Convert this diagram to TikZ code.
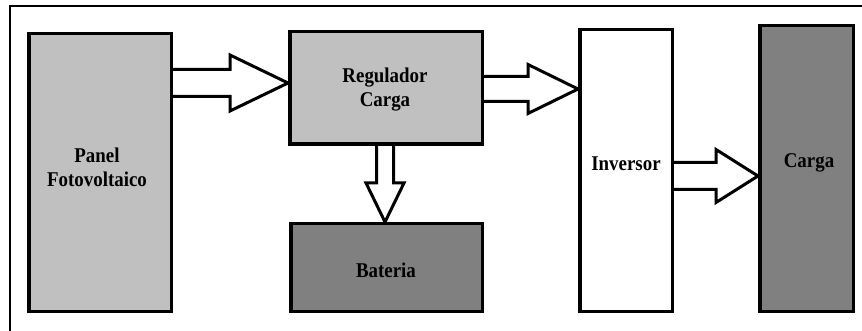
\documentclass[tikz,border=0pt]{standalone}
\usepackage{fontspec}
\setmainfont{Liberation Serif}[FakeStretch=0.9]
\usetikzlibrary{calc,backgrounds}
\definecolor{lgray}{HTML}{C0C0C0}
\definecolor{dgray}{HTML}{808080}
\tikzset{
  blk/.style={draw=black, line width=3.5pt, inner sep=0pt, anchor=center},
  lbl/.style={font=\fontsize{21}{24.5}\selectfont\bfseries, inner sep=0pt, align=center, anchor=base},
  barrow/.style={draw=black, fill=white, line width=3pt, line join=miter},
  frame/.style={draw=black, line width=2.2pt}
}
% horizontal block arrow: start node, end node, y coordinate, half shaft, half head, head length
\newcommand\harrow[6]{%
  \filldraw[barrow] let \p1=(#1), \p2=(#2), \p3=(#3) in
    (\x1-1.75pt,\y3+#4) -- (\x2-#6,\y3+#4) -- (\x2-#6,\y3+#5) -- (\x2,\y3)
    -- (\x2-#6,\y3-#5) -- (\x2-#6,\y3-#4) -- (\x1-1.75pt,\y3-#4);}
% vertical block arrow (downwards)
\newcommand\varrow[6]{%
  \filldraw[barrow] let \p1=(#1), \p2=(#2), \p3=(#3) in
    (\x3-#4,\y1+1.75pt) -- (\x3-#4,\y2+#6) -- (\x3-#5,\y2+#6) -- (\x3,\y2)
    -- (\x3+#5,\y2+#6) -- (\x3+#4,\y2+#6) -- (\x3+#4,\y1+1.75pt);}
\begin{document}
\begin{tikzpicture}[x=1pt,y=-1pt]
\useasboundingbox (0,0) rectangle (862,331);
% outer frame (top and left sides)
\coordinate (ftl) at (10,6);
\coordinate (ftr) at (862,6);
\coordinate (fbl) at (10,331);
\draw[frame] (ftr) -- (ftl) -- (fbl);
% boxes
\node[blk, fill=lgray, minimum width=142.5pt, minimum height=277.5pt] (panel) at (100,172.5) {};
\node[blk, fill=lgray, minimum width=192.5pt, minimum height=112.5pt] (reg) at (386,88) {};
\node[blk, fill=dgray, minimum width=191.5pt, minimum height=87.5pt] (bat) at (386.5,267.5) {};
\node[blk, fill=white, minimum width=92.5pt, minimum height=281.5pt] (inv) at (626,170.5) {};
\node[blk, fill=dgray, minimum width=93.5pt, minimum height=285.5pt] (carga) at (806.5,168.5) {};
% labels (base anchor = baseline of the last line)
\node[lbl] (panelt) at (97,187) {Panel\\Fotovoltaico};
\node[lbl] (regt) at (385,107) {Regulador\\Carga};
\node[lbl] (batt) at (386,277) {Bateria};
\node[lbl] (invt) at (626,171) {Inversor};
\node[lbl] (cargat) at (809,168) {Carga};
% arrows
\coordinate (y1) at (0,83);
\coordinate (y2) at (0,89);
\coordinate (y3) at (0,176);
\coordinate (x4) at (385,0);
\begin{scope}[on background layer]
\harrow{panel.east}{reg.west}{y1}{13.5pt}{28pt}{58pt}
\harrow{reg.east}{inv.west}{y2}{12.5pt}{24.5pt}{50pt}
\harrow{inv.east}{carga.west}{y3}{13.5pt}{26.5pt}{42pt}
\varrow{reg.south}{bat.north}{x4}{8.5pt}{19pt}{39pt}
\end{scope}
\end{tikzpicture}
\end{document}
